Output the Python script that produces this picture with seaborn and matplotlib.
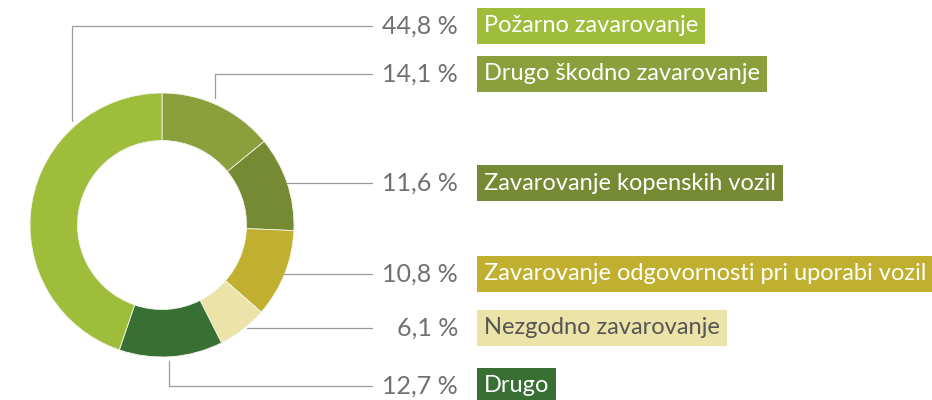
import numpy as np
import matplotlib
matplotlib.use("Agg")
import matplotlib.pyplot as plt
import seaborn as sns

# Portfolio shares, listed clockwise from 12 o'clock
categories = ["Drugo škodno zavarovanje", "Zavarovanje kopenskih vozil",
              "Zavarovanje odgovornosti pri uporabi vozil", "Nezgodno zavarovanje",
              "Drugo", "Požarno zavarovanje"]
shares = [14.1, 11.6, 10.8, 6.1, 12.7, 44.8]
colors = ["#8ba03c", "#768a33", "#c1b02f", "#ebe3a7", "#377032", "#9ebd3b"]
text_colors = ["white", "white", "white", "#555555", "white", "white"]

# layout of the callouts (pixel rows, connector type, anchor position inside wedge)
row_y = [74, 183, 274, 328, 386, 26]
connector = ["v", "h", "h", "h", "v", "v"]
anchor_frac = [0.45, 0.5, 0.5, 0.5, 0.52, 0.745]
anchor_r = [1.04, 1.0, 1.0, 1.06, 1.03, 1.04]

sns.set_style("white")
plt.rcParams["font.family"] = ["Lato", "DejaVu Sans"]

W, H = 932, 400
fig = plt.figure(figsize=(W / 100, H / 100), dpi=100)

# donut
cx, cy, R = 162, 225, 132
ax = fig.add_axes([(cx - R) / W, (H - cy - R) / H, 2 * R / W, 2 * R / H])
ax.pie(shares, colors=colors, startangle=90, counterclock=False, radius=1,
       wedgeprops=dict(width=0.36, edgecolor="#f4f4ee", linewidth=0.6))
ax.set_xlim(-1, 1)
ax.set_ylim(-1, 1)
ax.set_aspect("equal")
ax.axis("off")

# overlay in pixel coordinates for leader lines and labels
ov = fig.add_axes([0, 0, 1, 1], zorder=5)
ov.set_xlim(0, W)
ov.set_ylim(H, 0)
ov.axis("off")
ov.patch.set_alpha(0)

line_end = 372
cum = np.cumsum([0] + shares[:-1])
for i, name in enumerate(categories):
    pos = cum[i] + shares[i] * anchor_frac[i]
    ang = np.deg2rad(90 - pos / 100 * 360)
    ax_x = cx + R * anchor_r[i] * np.cos(ang)
    ax_y = cy - R * anchor_r[i] * np.sin(ang)
    y = row_y[i]
    if connector[i] == "v":
        ov.plot([ax_x, ax_x, line_end], [ax_y, y, y], color="#9a9a9a", lw=0.9)
    else:
        ov.plot([ax_x, line_end], [y, y], color="#9a9a9a", lw=0.9)

    pct = f"{shares[i]:.1f}".replace(".", ",") + " %"
    ov.text(458, y, pct, ha="right", va="center", fontsize=18,
            color="#707070")
    ov.text(484, y, name, ha="left", va="center", fontsize=17,
            color=text_colors[i],
            bbox=dict(boxstyle="square,pad=0.3", fc=colors[i], ec="none"))

fig.savefig("out.png", dpi=100, facecolor="white")
